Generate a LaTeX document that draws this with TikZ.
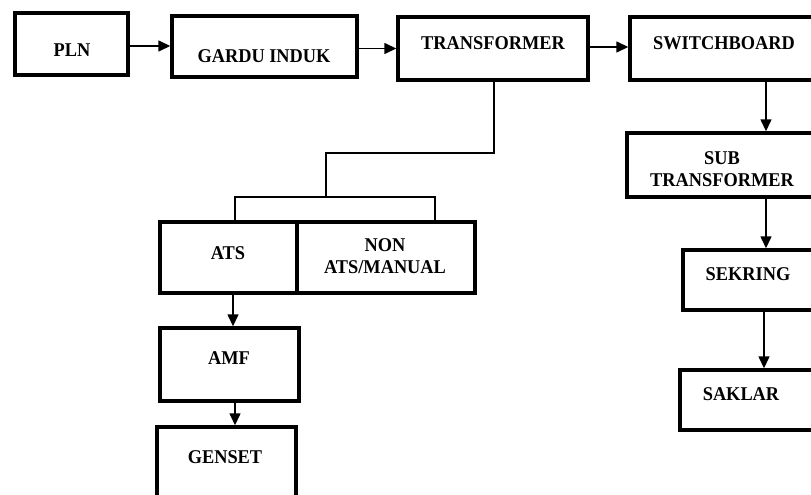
\documentclass[tikz,border=0pt]{standalone}
\usepackage{fontspec}
\setmainfont{Liberation Serif}[FakeStretch=0.94]
\usetikzlibrary{arrows.meta}
\begin{document}
\begin{tikzpicture}[x=1pt,y=-1pt,
  box/.style={draw=black,line width=3.4pt,rectangle,inner sep=0pt},
  lbl/.style={inner sep=0pt,font=\fontsize{19.5}{21.5}\selectfont\bfseries,align=center},
  conn/.style={draw=black,line width=1.4pt},
  arr/.style={conn,-{Triangle[length=12pt,width=11pt]}}]
\useasboundingbox (0,0) rectangle (811,495);
\clip (0,0) rectangle (811,495);
\fill[white] (0,0) rectangle (811,495);
% boxes
\node[box,minimum width=113pt,minimum height=62pt] (pln) at (71.5,44) {};
\node[box,minimum width=185pt,minimum height=61pt] (gardu) at (264.5,46.5) {};
\node[box,minimum width=190pt,minimum height=63pt] (trans) at (493,48.5) {};
\node[box,minimum width=190pt,minimum height=63pt] (switch) at (725,48.5) {};
\node[box,minimum width=193pt,minimum height=64pt] (sub) at (723.5,165) {};
\node[box,minimum width=137pt,minimum height=60pt] (sek) at (751.5,280) {};
\node[box,minimum width=140pt,minimum height=60pt] (sak) at (750,400) {};
\node[box,minimum width=137pt,minimum height=71pt] (ats) at (228.5,257.5) {};
\node[box,minimum width=178pt,minimum height=71pt] (non) at (386,257.5) {};
\node[box,minimum width=139pt,minimum height=73pt] (amf) at (229.5,364.5) {};
\node[box,minimum width=139pt,minimum height=83pt] (genset) at (226.5,468.5) {};
% labels
\node[lbl] (plnT) at (72,50) {PLN};
\node[lbl] (garduT) at (264,56) {GARDU INDUK};
\node[lbl] (transT) at (493,43.5) {TRANSFORMER};
\node[lbl] (switchT) at (724,43.5) {SWITCHBOARD};
\node[lbl] (subT) at (722,169) {SUB\\TRANSFORMER};
\node[lbl] (sekT) at (748,274) {SEKRING};
\node[lbl] (sakT) at (741,394) {SAKLAR};
\node[lbl] (atsT) at (228,253) {ATS};
\node[lbl] (nonT) at (385,256) {NON\\ATS/MANUAL};
\node[lbl] (amfT) at (229,358) {AMF};
\node[lbl] (gensetT) at (225,457) {GENSET};
% helper coordinates
\coordinate (r1) at (0,46);
\coordinate (r3) at (0,47);
\coordinate (rc) at (766,0);
\coordinate (rc2) at (764,0);
\coordinate (lc) at (233,0);
\coordinate (lc2) at (235,0);
\coordinate (td) at (494,153);
\coordinate (tj) at (326,153);
\coordinate (bj) at (326,197);
\coordinate (bl) at (235,197);
\coordinate (br) at (435,197);
% connectors
\draw[arr] (pln.east |- r1) -- (gardu.west |- r1);
\draw[arr] (gardu.east |- trans.west) -- (trans.west);
\draw[arr] (trans.east |- r3) -- (switch.west |- r3);
\draw[arr] (switch.south -| rc) -- (sub.north -| rc);
\draw[arr] (sub.south -| rc) -- (sek.north -| rc);
\draw[arr] (sek.south -| rc2) -- (sak.north -| rc2);
\draw[arr] (ats.south -| lc) -- (amf.north -| lc);
\draw[arr] (amf.south -| lc2) -- (genset.north -| lc2);
\draw[conn] (trans.south -| td) -- (td) -- (tj) -- (bj);
\draw[conn] (ats.north -| bl) -- (bl) -- (br) -- (non.north -| br);
\end{tikzpicture}
\end{document}
